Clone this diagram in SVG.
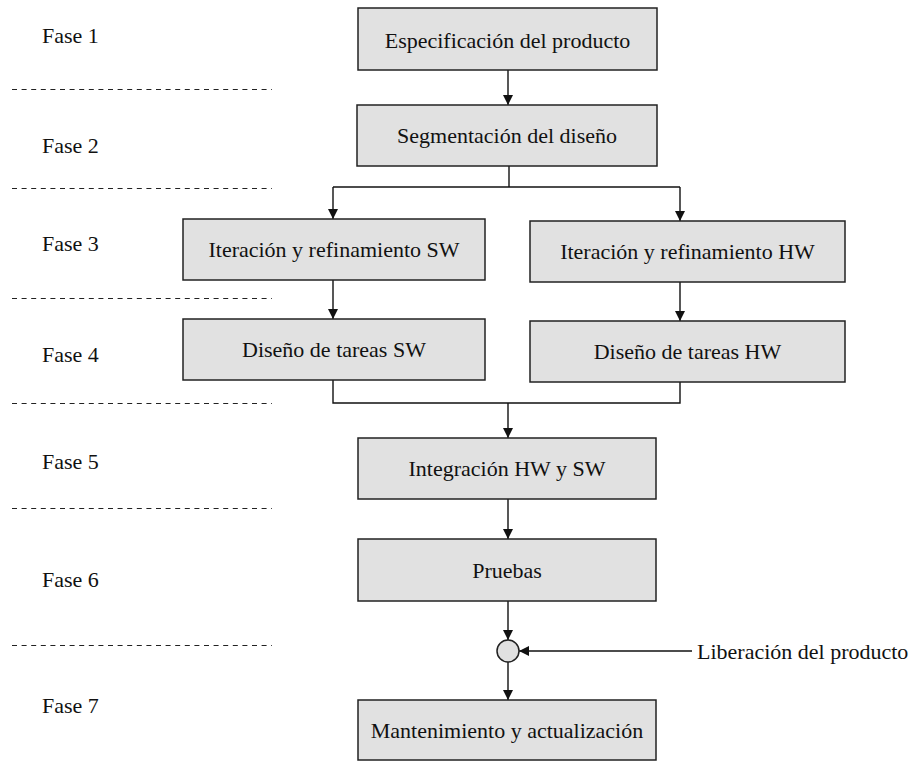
<svg xmlns="http://www.w3.org/2000/svg" width="919" height="762" viewBox="0 0 919 762">
  <style>
    .box { fill: #e1e1e1; stroke: #222; stroke-width: 1.5; }
    .lbl { font-family: "Liberation Serif", "Times New Roman", serif; font-size: 22px; fill: #111; }
    .mid { text-anchor: middle; }
    .wire { fill: none; stroke: #111; stroke-width: 1.4; }
    .sep { stroke: #222; stroke-width: 1; stroke-dasharray: 5 4.6; }
  </style>
  <defs>
    <marker id="arrow" viewBox="0 0 10 10" refX="10" refY="5" markerWidth="10" markerHeight="10" markerUnits="userSpaceOnUse" orient="auto">
      <path d="M0,0 L10,5 L0,10 Z" fill="#111"/>
    </marker>
  </defs>
  <rect width="919" height="762" fill="#fff"/>

  <!-- phase labels and separators -->
  <g id="phases">
    <text class="lbl" x="42" y="43">Fase 1</text>
    <text class="lbl" x="42" y="153">Fase 2</text>
    <text class="lbl" x="42" y="251">Fase 3</text>
    <text class="lbl" x="42" y="362">Fase 4</text>
    <text class="lbl" x="42" y="469">Fase 5</text>
    <text class="lbl" x="42" y="587">Fase 6</text>
    <text class="lbl" x="42" y="713">Fase 7</text>
    <line class="sep" x1="12" y1="89.5" x2="272" y2="89.5"/>
    <line class="sep" x1="12" y1="188.5" x2="272" y2="188.5"/>
    <line class="sep" x1="12" y1="298.5" x2="272" y2="298.5"/>
    <line class="sep" x1="12" y1="403.5" x2="272" y2="403.5"/>
    <line class="sep" x1="12" y1="508.5" x2="272" y2="508.5"/>
    <line class="sep" x1="12" y1="645.5" x2="272" y2="645.5"/>
  </g>

  <!-- connectors -->
  <g id="connectors">
    <line class="wire" x1="508" y1="70" x2="508" y2="105" marker-end="url(#arrow)"/>
    <polyline class="wire" points="509,166 509,187"/>
    <polyline class="wire" points="333,187 680,187"/>
    <line class="wire" x1="333" y1="187" x2="333" y2="219" marker-end="url(#arrow)"/>
    <line class="wire" x1="680" y1="187" x2="680" y2="221" marker-end="url(#arrow)"/>
    <line class="wire" x1="333" y1="280" x2="333" y2="319" marker-end="url(#arrow)"/>
    <line class="wire" x1="680" y1="282" x2="680" y2="321" marker-end="url(#arrow)"/>
    <polyline class="wire" points="333,380 333,403 680,403 680,382"/>
    <line class="wire" x1="508" y1="403" x2="508" y2="438" marker-end="url(#arrow)"/>
    <line class="wire" x1="508" y1="499" x2="508" y2="539" marker-end="url(#arrow)"/>
    <line class="wire" x1="508" y1="601" x2="508" y2="640" marker-end="url(#arrow)"/>
    <line class="wire" x1="692" y1="651" x2="519" y2="651" marker-end="url(#arrow)"/>
    <line class="wire" x1="508" y1="662" x2="508" y2="700" marker-end="url(#arrow)"/>
  </g>

  <g id="spec">
    <rect class="box" x="358" y="8" width="299" height="62"/>
    <text class="lbl mid" x="507.5" y="48">Especificación del producto</text>
  </g>
  <g id="segment">
    <rect class="box" x="357" y="105" width="300" height="61"/>
    <text class="lbl mid" x="507" y="143">Segmentación del diseño</text>
  </g>
  <g id="iter-sw">
    <rect class="box" x="183" y="219" width="302" height="61"/>
    <text class="lbl mid" x="334" y="257">Iteración y refinamiento SW</text>
  </g>
  <g id="iter-hw">
    <rect class="box" x="530" y="221" width="315" height="61"/>
    <text class="lbl mid" x="687.5" y="259">Iteración y refinamiento HW</text>
  </g>
  <g id="tasks-sw">
    <rect class="box" x="183" y="319" width="302" height="61"/>
    <text class="lbl mid" x="334" y="357">Diseño de tareas SW</text>
  </g>
  <g id="tasks-hw">
    <rect class="box" x="530" y="321" width="315" height="61"/>
    <text class="lbl mid" x="687.5" y="359">Diseño de tareas HW</text>
  </g>
  <g id="integration">
    <rect class="box" x="358" y="438" width="298" height="61"/>
    <text class="lbl mid" x="507" y="476">Integración HW y SW</text>
  </g>
  <g id="tests">
    <rect class="box" x="358" y="539" width="298" height="62"/>
    <text class="lbl mid" x="507" y="578">Pruebas</text>
  </g>
  <g id="release-join">
    <circle class="box" cx="508" cy="651" r="11"/>
  </g>
  <g id="release">
    <text class="lbl" x="697" y="659">Liberación del producto</text>
  </g>
  <g id="maintenance">
    <rect class="box" x="358" y="700" width="298" height="60"/>
    <text class="lbl mid" x="507" y="738">Mantenimiento y actualización</text>
  </g>
</svg>
